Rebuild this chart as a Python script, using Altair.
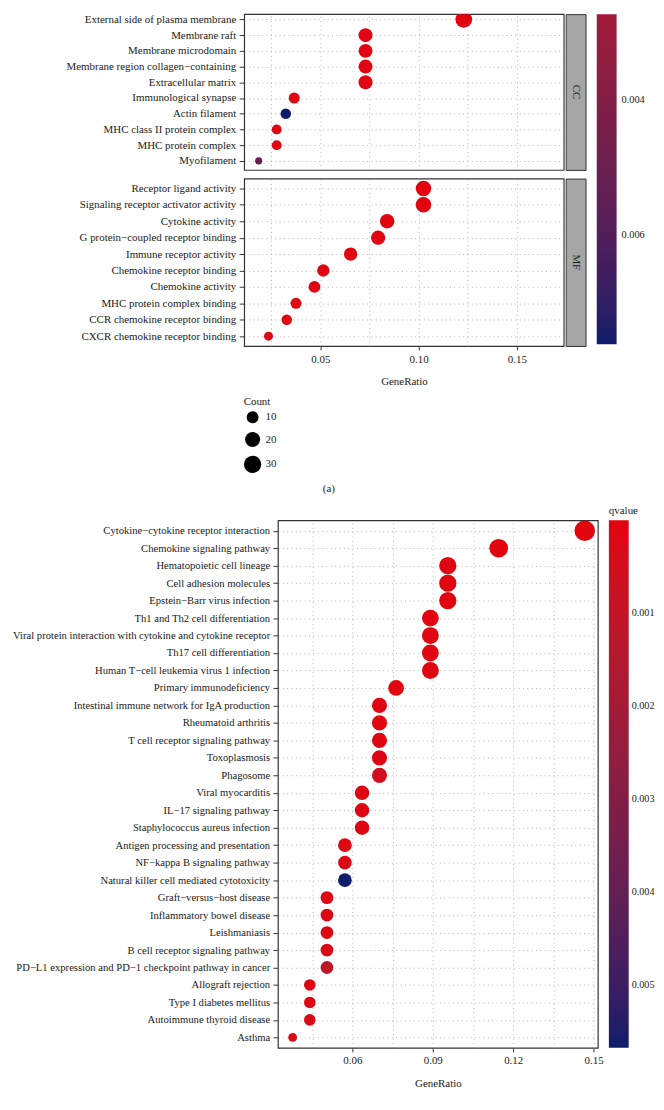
import math
import altair as alt
import pandas as pd

FONT = "Liberation Serif"
TXT = "#1a1a1a"
RED = "#E1040F"
NAVY = "#0B1D6B"

# ---------------- data ----------------
cc_terms = ["External side of plasma membrane", "Membrane raft", "Membrane microdomain",
            "Membrane region collagen\u2212containing", "Extracellular matrix",
            "Immunological synapse", "Actin filament", "MHC class II protein complex",
            "MHC protein complex", "Myofilament"]
cc_ratio = [0.1230, 0.0730, 0.0730, 0.0730, 0.0730, 0.0367, 0.0324, 0.0278, 0.0278, 0.0186]
cc_count = [27, 16, 16, 16, 16, 8, 7, 6, 6, 4]
cc_q = [0.00001, 0.00004, 0.00004, 0.00005, 0.00006, 0.0001, 0.00761, 0.0001, 0.0001, 0.0052]

mf_terms = ["Receptor ligand activity", "Signaling receptor activator activity", "Cytokine activity",
            "G protein\u2212coupled receptor binding", "Immune receptor activity",
            "Chemokine receptor binding", "Chemokine activity", "MHC protein complex binding",
            "CCR chemokine receptor binding", "CXCR chemokine receptor binding"]
mf_ratio = [0.1025, 0.1025, 0.0840, 0.0794, 0.0654, 0.0515, 0.0470, 0.0376, 0.0329, 0.0236]
mf_count = [22, 22, 18, 17, 14, 11, 10, 8, 7, 5]
mf_q = [0.00001, 0.00001, 0.00002, 0.00004, 0.00004, 0.00008, 0.0001, 0.0001, 0.0001, 0.0002]

kegg_terms = ["Cytokine\u2212cytokine receptor interaction", "Chemokine signaling pathway",
              "Hematopoietic cell lineage", "Cell adhesion molecules", "Epstein\u2212Barr virus infection",
              "Th1 and Th2 cell differentiation",
              "Viral protein interaction with cytokine and cytokine receptor",
              "Th17 cell differentiation", "Human T\u2212cell leukemia virus 1 infection",
              "Primary immunodeficiency", "Intestinal immune network for IgA production",
              "Rheumatoid arthritis", "T cell receptor signaling pathway", "Toxoplasmosis",
              "Phagosome", "Viral myocarditis", "IL\u221217 signaling pathway",
              "Staphylococcus aureus infection", "Antigen processing and presentation",
              "NF\u2212kappa B signaling pathway", "Natural killer cell mediated cytotoxicity",
              "Graft\u2212versus\u2212host disease", "Inflammatory bowel disease", "Leishmaniasis",
              "B cell receptor signaling pathway",
              "PD\u2212L1 expression and PD\u22121 checkpoint pathway in cancer",
              "Allograft rejection", "Type I diabetes mellitus", "Autoimmune thyroid disease",
              "Asthma"]
kegg_ratio = [0.1467, 0.1146, 0.0956, 0.0956, 0.0956, 0.0891, 0.0891, 0.0891, 0.0891, 0.0763,
              0.0701, 0.0701, 0.0701, 0.0701, 0.0701, 0.0636, 0.0636, 0.0636, 0.0572, 0.0572,
              0.0572, 0.0505, 0.0505, 0.0505, 0.0505, 0.0505, 0.0441, 0.0441, 0.0441, 0.0377]
kegg_count = [23, 18, 15, 15, 15, 14, 14, 14, 14, 12, 11, 11, 11, 11, 11, 10, 10, 10, 9, 9,
              9, 8, 8, 8, 8, 8, 7, 7, 7, 6]
kegg_q = [0.000001, 0.00001, 0.00002, 0.00002, 0.00003, 0.00004, 0.00004, 0.00004, 0.00006, 0.00004,
          0.00008, 0.00008, 0.0001, 0.0001, 0.0005, 0.0001, 0.0001, 0.0001, 0.00015, 0.0002,
          0.00568, 0.0001, 0.00015, 0.00015, 0.0002, 0.0011, 0.0001, 0.0001, 0.00015, 0.0002]

top_x_ticks = [0.05, 0.10, 0.15]
top_x_minor = [0.025, 0.075, 0.125]
top_x_domain = [0.01123, 0.17387]
top_q_domain = [0.0, 0.00761]          # full colour range of the GO panels
top_q_visible = [0.00274, 0.00761]     # part of the colour bar that is visible in the picture
top_q_ticks = [0.004, 0.006]
top_count_ticks = [10, 20, 30]

kegg_x_ticks = [0.06, 0.09, 0.12, 0.15]
kegg_x_minor = [0.045, 0.075, 0.105, 0.135]
kegg_x_domain = [0.0322, 0.1516]
kegg_q_domain = [0.0, 0.00568]
kegg_q_ticks = [0.001, 0.002, 0.003, 0.004, 0.005]

top_df = pd.DataFrame({
    "term": cc_terms + mf_terms,
    "GeneRatio": cc_ratio + mf_ratio,
    "Count": cc_count + mf_count,
    "qvalue": cc_q + mf_q,
    "ONTOLOGY": ["CC"] * len(cc_terms) + ["MF"] * len(mf_terms),
})
kegg_df = pd.DataFrame({"term": kegg_terms, "GeneRatio": kegg_ratio,
                        "Count": kegg_count, "qvalue": kegg_q})


# ---------------- colour helpers (same Lab model as d3 / Vega) ----------------
def _lin(c):
    c /= 255.0
    return c / 12.92 if c <= 0.04045 else ((c + 0.055) / 1.055) ** 2.4


def _f(t):
    t0, t1 = 4 / 29, 6 / 29
    return t ** (1 / 3) if t > t1 ** 3 else t / (3 * t1 * t1) + t0


def hex2lab(h):
    r, g, b = [_lin(int(h[i:i + 2], 16)) for i in (1, 3, 5)]
    y = _f(0.2225045 * r + 0.7168786 * g + 0.0606169 * b)
    x = _f((0.4360747 * r + 0.3850649 * g + 0.1430804 * b) / 0.96422)
    z = _f((0.0139322 * r + 0.0971045 * g + 0.7141733 * b) / 0.82521)
    return 116 * y - 16, 500 * (x - y), 200 * (y - z)


def lab2hex(l, a, b):
    t0, t1 = 4 / 29, 6 / 29
    t2 = 3 * t1 * t1

    def finv(t):
        return t ** 3 if t > t1 else t2 * (t - t0)

    y = (l + 16) / 116
    x = y + a / 500
    z = y - b / 200
    x, y, z = 0.96422 * finv(x), finv(y), 0.82521 * finv(z)

    def g(v):
        v = 12.92 * v if v <= 0.0031308 else 1.055 * v ** (1 / 2.4) - 0.055
        return max(0, min(255, round(255 * v)))

    return "#%02x%02x%02x" % (g(3.1338561 * x - 1.6168667 * y - 0.4906146 * z),
                              g(-0.9787684 * x + 1.9161415 * y + 0.0334540 * z),
                              g(0.0719453 * x - 0.2289914 * y + 1.4052427 * z))


def lab_mix(c0, c1, t):
    a, b = hex2lab(c0), hex2lab(c1)
    return lab2hex(*[a[i] + (b[i] - a[i]) * t for i in range(3)])


C_TOP = lab_mix(RED, NAVY, (top_q_visible[0] - top_q_domain[0]) / (top_q_domain[1] - top_q_domain[0]))


def size_scale(cmin, cmax, d0, k):
    # ggplot-like area palette: diameter grows with sqrt of count above the minimum
    dom, rng = [], []
    for i in range(13):
        t = i / 12
        c = cmin + (cmax - cmin) * t * t
        d = d0 + k * math.sqrt(c - cmin)
        dom.append(round(c, 4))
        rng.append(round(math.pi / 4 * d * d, 2))
    return alt.Scale(type="linear", domain=dom, range=rng, zero=False, nice=False)


TOP_SIZE = size_scale(4, 32, 8.0, 2.27)
KEGG_SIZE = size_scale(6, 25, 10.0, 3.226)

GRID = dict(gridColor="#a0a0a0", gridDash=[1, 3.4], gridWidth=0.8)


def x_axis(majors, minors, unit, show, xlabel_pad, title_pad):
    vals = sorted(majors + minors)
    test = "abs(datum.value / %s - round(datum.value / %s)) < 0.001" % (unit, unit)
    if show:
        return alt.Axis(values=vals, grid=True, domain=False, tickSize=4,
                        tickOpacity={"condition": {"test": test, "value": 1}, "value": 0},
                        labelExpr="%s ? format(datum.value, '.2f') : ''" % test,
                        labelPadding=xlabel_pad, title="GeneRatio", titlePadding=title_pad, **GRID)
    return alt.Axis(values=vals, grid=True, domain=False, ticks=False, labels=False,
                    title=None, **GRID)


def panel(df, order, yscale, xdom, xaxis, width, height, color_enc, size_enc,
          ext, label_size, label_pad, extra=None, clip=False):
    base = alt.Chart(df)
    yenc = alt.Y("term:N", sort=order, scale=yscale,
                 axis=alt.Axis(title=" ", titleX=-ext, titleY=40, titleAngle=0, titleAlign="left",
                               titleBaseline="top", grid=True, domain=False, ticks=True, tickSize=5,
                               labelPadding=label_pad, labelFontSize=label_size, labelLimit=400,
                               **GRID))
    xenc = alt.X("GeneRatio:Q", scale=alt.Scale(domain=xdom, nice=False, zero=False), axis=xaxis)
    pts = base.mark_circle(opacity=1, clip=clip).encode(
        x=xenc, y=yenc, color=color_enc, size=size_enc)
    if extra is None:
        return pts.properties(width=width, height=height)
    hidden = base.mark_circle(opacity=0).encode(x=xenc, y=yenc, fill=extra)
    return alt.layer(pts, hidden).properties(width=width, height=height)


def strip(label, height):
    return alt.Chart(pd.DataFrame({"lab": [label]})).mark_text(
        angle=90, font=FONT, fontSize=11, color=TXT
    ).encode(text="lab:N").properties(
        width=20, height=height, view=alt.ViewBackground(fill="#A6A6A6", stroke="#333333")
    )


def blank(text, width, height):
    return alt.Chart(pd.DataFrame({"t": [text]})).mark_text(
        font=FONT, fontSize=11, color=TXT
    ).encode(text="t:N").properties(width=width, height=height,
                                    view=alt.ViewBackground(stroke="transparent"))


# colour of the GO points (legend drawn from the visible part of the bar below)
top_color = alt.Color(
    "qvalue:Q",
    scale=alt.Scale(domain=top_q_domain, range=[RED, NAVY], interpolate="lab"),
    legend=None,
)
top_bar = alt.Fill(
    "qvalue:Q",
    scale=alt.Scale(domain=[top_q_visible[1], top_q_visible[0]], range=[NAVY, C_TOP],
                    interpolate="lab", clamp=True),
    legend=alt.Legend(title=None, orient="none", legendX=355.3, legendY=0, direction="vertical",
                      gradientLength=332.7, gradientThickness=20, values=top_q_ticks, format=".3f",
                      labelOffset=5, labelFontSize=10.4, gradientStrokeWidth=0),
)
top_size = alt.Size(
    "Count:Q", scale=TOP_SIZE,
    legend=alt.Legend(title="Count", orient="none", legendX=-0.5, legendY=384.7,
                      values=top_count_ticks, symbolFillColor="#000000", symbolStrokeWidth=0,
                      symbolOpacity=1, rowPadding=8, titlePadding=4, labelOffset=4),
)

PW = 322
CC_H = 157
MF_H = 168.7
cc_df = top_df[top_df["ONTOLOGY"] == "CC"]
mf_df = top_df[top_df["ONTOLOGY"] == "MF"]
cc_panel = panel(cc_df, cc_terms, alt.Scale(type="point", padding=0.4568, align=0.369),
                 top_x_domain, x_axis(top_x_ticks, top_x_minor, 0.05, False, 4, 11), PW, CC_H,
                 top_color, top_size, 236.7, 11, 3.5, clip=True)
mf_panel = panel(mf_df, mf_terms, alt.Scale(type="point", padding=0.6),
                 top_x_domain, x_axis(top_x_ticks, top_x_minor, 0.05, True, 4, 11), PW, MF_H,
                 top_color, top_size, 236.7, 11, 3.5, extra=top_bar)

cc_row = alt.hconcat(cc_panel, strip("CC", CC_H), spacing=0).resolve_scale(
    color="shared", size="shared", fill="shared")
mf_row = alt.hconcat(mf_panel, strip("MF", MF_H), spacing=0).resolve_scale(
    color="shared", size="shared", fill="shared")
top_part = alt.vconcat(cc_row, mf_row, spacing=6.7).resolve_scale(
    color="shared", size="shared", fill="shared", x="independent", y="independent")

caption = blank("(a)", 170.6, 29)

kegg_color = alt.Color(
    "qvalue:Q",
    scale=alt.Scale(domain=[kegg_q_domain[1], kegg_q_domain[0]], range=[NAVY, RED], interpolate="lab"),
    legend=alt.Legend(title="qvalue", orient="none", legendX=333.5, legendY=-15, direction="vertical",
                      gradientLength=531.7, gradientThickness=20, values=kegg_q_ticks, format=".3f",
                      labelOffset=3, labelFontSize=10.2, gradientStrokeWidth=0, titlePadding=4),
)
kegg_size = alt.Size("Count:Q", scale=KEGG_SIZE, legend=None)
bottom = panel(kegg_df, kegg_terms, alt.Scale(type="point", padding=0.6),
               kegg_x_domain, x_axis(kegg_x_ticks, kegg_x_minor, 0.03, True, 3, 12), 322.4, 531.7,
               kegg_color, kegg_size, 271.3, 10.7, 3.3)
# a 1-px spacer lets the KEGG panel sit further right than the GO panels, as in the figure
bottom_row = alt.hconcat(blank("", 1, 1), bottom, spacing=-240).resolve_scale(
    color="independent", size="independent", x="independent", y="independent")

chart = alt.vconcat(top_part, caption, bottom_row, spacing=0).resolve_scale(
    color="independent", size="independent", fill="independent", x="independent", y="independent"
).properties(
    padding=0
).configure_view(
    stroke="#333333", strokeWidth=1.2
).configure_axis(
    labelFont=FONT, titleFont=FONT, labelFontSize=11, titleFontSize=11,
    labelColor=TXT, titleColor=TXT, titleFontWeight="normal", tickColor="#333333", tickWidth=1,
).configure_legend(
    labelFont=FONT, titleFont=FONT, labelFontSize=11, titleFontSize=11, labelColor=TXT,
    titleColor=TXT, titleFontWeight="normal",
).configure_text(font=FONT)

chart.save("out.html", embed_options={"renderer": "svg", "actions": False})
